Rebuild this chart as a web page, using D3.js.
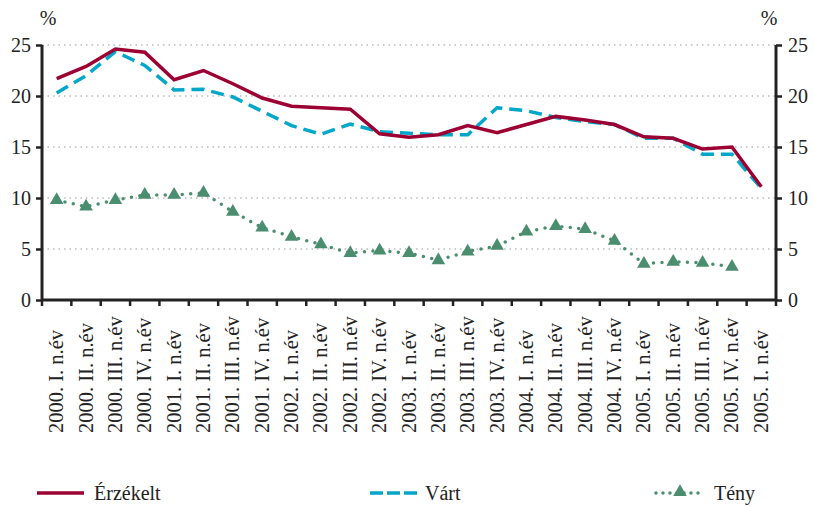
<!DOCTYPE html>
<html lang="hu">
<head>
    <meta charset="UTF-8">
    <title>Érzékelt, várt és tényleges infláció</title>
    <script src="https://d3js.org/d3.v7.min.js"></script>
    <style>
        body { margin: 0; background: #fff; }
        svg text { font-family: "Liberation Serif", "DejaVu Serif", serif !important; fill: #222; }
        .grid line { stroke: #999; stroke-dasharray: 1.5 4; }
    </style>
</head>
<body>
    <script>
        // negyedévek
        const categories = [
            "2000. I. n.év", "2000. II. n.év", "2000. III. n.év", "2000. IV. n.év",
            "2001. I. n.év", "2001. II. n.év", "2001. III. n.év", "2001. IV. n.év",
            "2002. I. n.év", "2002. II. n.év", "2002. III. n.év", "2002. IV. n.év",
            "2003. I. n.év", "2003. II. n.év", "2003. III. n.év", "2003. IV. n.év",
            "2004. I. n.év", "2004. II. n.év", "2004. III. n.év", "2004. IV. n.év",
            "2005. I. n.év", "2005. II. n.év", "2005. III. n.év", "2005. IV. n.év",
            "2005. I. n.év "
        ];
        const erzekelt = [21.7, 22.9, 24.6, 24.3, 21.6, 22.5, 21.2, 19.8, 19.0, 18.85, 18.7, 16.3,
                          15.95, 16.2, 17.1, 16.4, 17.2, 18.0, 17.65, 17.2, 16.0, 15.85, 14.8, 15.0, 11.1];
        const vart = [20.3, 22.0, 24.35, 23.0, 20.6, 20.65, 19.9, 18.5, 17.1, 16.25, 17.25, 16.5,
                      16.35, 16.2, 16.2, 18.85, 18.55, 17.9, 17.5, 17.2, 15.85, 15.85, 14.3, 14.3, 10.95];
        const teny = [9.8, 9.15, 9.8, 10.3, 10.3, 10.5, 8.65, 7.1, 6.2, 5.45, 4.6, 4.85,
                      4.6, 3.9, 4.75, 5.3, 6.7, 7.25, 6.95, 5.8, 3.55, 3.75, 3.65, 3.25];
        const yTicks = [0, 5, 10, 15, 20, 25];

        const width = 814, height = 507;
        const margin = { top: 45, right: 38, bottom: 207, left: 42 };
        const colors = { erzekelt: "#9c0032", vart: "#00a7c9", teny: "#4b8d6f" };
        const serif = '"Liberation Serif", "DejaVu Serif", serif';

        const svg = d3.select("body").append("svg")
            .attr("width", width)
            .attr("height", height)
            .attr("font-family", serif);

        const x = d3.scaleBand()
            .domain(categories)
            .range([margin.left, width - margin.right]);

        const y = d3.scaleLinear()
            .domain([0, 25])
            .range([height - margin.bottom, margin.top]);

        const px = i => x(categories[i]) + x.bandwidth() / 2;

        // rácsvonalak
        svg.append("g").attr("class", "grid")
            .selectAll("line")
            .data(yTicks.filter(d => d > 0))
            .join("line")
            .attr("x1", margin.left)
            .attr("x2", width - margin.right)
            .attr("y1", d => y(d))
            .attr("y2", d => y(d));

        // vonalak
        const line = d3.line()
            .x((d, i) => px(i))
            .y(d => y(d));

        svg.append("path")
            .datum(teny)
            .attr("fill", "none")
            .attr("stroke", colors.teny)
            .attr("stroke-width", 3.5)
            .attr("stroke-linecap", "round")
            .attr("stroke-dasharray", "0 8.5")
            .attr("d", line);

        svg.append("path")
            .datum(vart)
            .attr("fill", "none")
            .attr("stroke", colors.vart)
            .attr("stroke-width", 3.5)
            .attr("stroke-dasharray", "13 7")
            .attr("d", line);

        svg.append("path")
            .datum(erzekelt)
            .attr("fill", "none")
            .attr("stroke", colors.erzekelt)
            .attr("stroke-width", 3.5)
            .attr("d", line);

        const tri = d3.symbol().type(d3.symbolTriangle).size(80);
        svg.append("g")
            .selectAll("path")
            .data(teny)
            .join("path")
            .attr("d", tri)
            .attr("fill", colors.teny)
            .attr("transform", (d, i) => `translate(${px(i)},${y(d)})`);

        // tengelyek
        const axisLeft = svg.append("g")
            .attr("transform", `translate(${margin.left},0)`)
            .call(d3.axisLeft(y).tickValues(yTicks).tickSize(6).tickPadding(5));

        const axisRight = svg.append("g")
            .attr("transform", `translate(${width - margin.right},0)`)
            .call(d3.axisRight(y).tickValues(yTicks).tickSize(6).tickPadding(6));

        const axisBottom = svg.append("g")
            .attr("transform", `translate(0,${height - margin.bottom})`)
            .call(d3.axisBottom(x).tickSize(0).tickFormat(""));

        // negyedév határok jelölése
        axisBottom.selectAll(".sep")
            .data(d3.range(categories.length + 1))
            .join("line")
            .attr("class", "sep")
            .attr("x1", i => margin.left + i * x.bandwidth())
            .attr("x2", i => margin.left + i * x.bandwidth())
            .attr("y1", 0)
            .attr("y2", 6)
            .attr("stroke", "#222")
            .attr("stroke-width", 2.5);

        [axisLeft, axisRight, axisBottom].forEach(g => {
            g.attr("font-family", serif).attr("font-size", 20);
            g.select(".domain").attr("stroke", "#222").attr("stroke-width", 3);
            g.selectAll(".tick line").attr("stroke", "#222").attr("stroke-width", 2.5);
            g.selectAll("text").style("font-size", "20px").attr("fill", "#222");
        });
        axisLeft.select(".domain").attr("d", `M0,${y(25)}V${y(0)}`);
        axisRight.select(".domain").attr("d", `M0,${y(25)}V${y(0)}`);
        axisBottom.select(".domain").attr("d", `M${margin.left},0H${width - margin.right}`);

        // x feliratok (alulra igazítva, felfelé olvasva)
        svg.append("g")
            .selectAll("text")
            .data(categories)
            .join("text")
            .attr("transform", d => `translate(${x(d) + x.bandwidth() / 2 + 6.5},433) rotate(-90)`)
            .attr("text-anchor", "start")
            .style("font-size", "20.5px")
            .text(d => d.trim());

        svg.append("text").attr("x", 48).attr("y", 25).attr("text-anchor", "middle")
            .style("font-size", "20px").text("%");
        svg.append("text").attr("x", 769).attr("y", 25).attr("text-anchor", "middle")
            .style("font-size", "20px").text("%");

        // jelmagyarázat
        const ly = 493;
        const legend = svg.append("g");
        legend.append("line").attr("x1", 37).attr("x2", 84).attr("y1", ly).attr("y2", ly)
            .attr("stroke", colors.erzekelt).attr("stroke-width", 3.5);
        legend.append("text").attr("x", 94).attr("y", ly + 7).style("font-size", "20px").text("Érzékelt");

        legend.append("line").attr("x1", 370).attr("x2", 418).attr("y1", ly).attr("y2", ly)
            .attr("stroke", colors.vart).attr("stroke-width", 3.5).attr("stroke-dasharray", "13 4");
        legend.append("text").attr("x", 425).attr("y", ly + 7).style("font-size", "20px").text("Várt");

        legend.append("line").attr("x1", 656).attr("x2", 705).attr("y1", ly).attr("y2", ly)
            .attr("stroke", colors.teny).attr("stroke-width", 3.5).attr("stroke-linecap", "round")
            .attr("stroke-dasharray", "0 7");
        legend.append("path").attr("d", tri).attr("fill", colors.teny)
            .attr("transform", `translate(680,${ly - 1})`);
        legend.append("text").attr("x", 714).attr("y", ly + 7).style("font-size", "20px").text("Tény");
    </script>
</body>
</html>
